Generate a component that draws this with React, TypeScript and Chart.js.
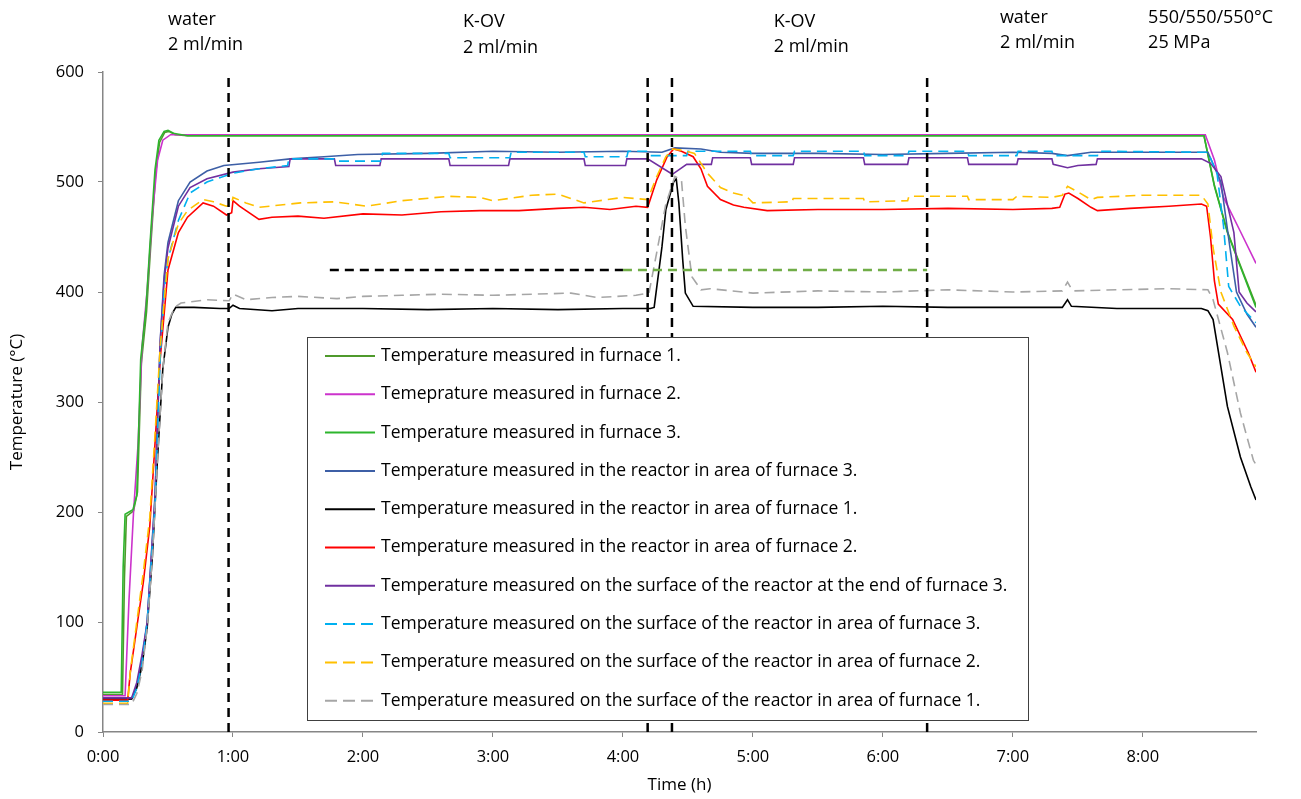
import React, { useEffect, useRef } from "react";
import { Chart, registerables } from "chart.js";

Chart.register(...registerables);

// ---------- data (time in hours, temperature in °C) ----------
const furnace1Time = [0, 0.15, 0.165, 0.18, 0.235, 0.265, 0.295, 0.335, 0.365, 0.405, 0.435, 0.475, 0.505, 0.555, 0.65, 8.47, 8.55, 8.65, 8.75, 8.87];
const furnace1Temp = [34, 34, 140, 196, 201, 218, 335, 382, 438, 508, 536, 545, 546, 543, 542, 542, 497, 455, 424, 388];

const furnace2Time = [0, 0.17, 0.2, 0.235, 0.27, 0.3, 0.34, 0.38, 0.42, 0.46, 0.52, 0.6, 8.48, 8.55, 8.62, 8.75, 8.87];
const furnace2Temp = [33, 33, 120, 200, 262, 350, 402, 470, 520, 538, 543, 543, 543, 520, 486, 455, 426];

const furnace3Time = [0, 0.14, 0.155, 0.17, 0.23, 0.26, 0.29, 0.33, 0.36, 0.4, 0.43, 0.47, 0.5, 0.55, 0.65, 8.47, 8.55, 8.65, 8.75, 8.87];
const furnace3Temp = [36, 36, 150, 198, 202, 215, 339, 384, 441, 511, 538, 546, 547, 544, 542, 542, 496, 454, 423, 386];

const reactorF3Time = [0, 0.22, 0.26, 0.3, 0.34, 0.4, 0.44, 0.47, 0.5, 0.58, 0.67, 0.8, 0.93, 1.2, 1.44, 1.7, 1.96, 2.5, 3.0, 3.5, 4.0, 4.3, 4.4, 4.6, 4.75, 5.0, 5.5, 6.0, 6.5, 7.0, 7.3, 7.42, 7.6, 8.0, 8.5, 8.6, 8.67, 8.72, 8.8, 8.87];
const reactorF3Temp = [30, 30, 42, 65, 100, 215, 355, 415, 445, 483, 500, 510, 515, 518, 521, 523, 525, 526, 528, 527, 528, 527, 531, 530, 527, 526, 526, 525, 526, 527, 526, 524, 527, 527, 527, 500, 440, 400, 380, 368];

const reactorF1Time = [0, 0.22, 0.26, 0.3, 0.34, 0.38, 0.42, 0.46, 0.5, 0.53, 0.56, 0.7, 0.9, 0.97, 1.0, 1.05, 1.3, 1.5, 2.0, 2.5, 3.0, 3.5, 4.0, 4.21, 4.24, 4.3, 4.33, 4.39, 4.41, 4.43, 4.46, 4.48, 4.54, 5.0, 5.5, 6.0, 6.5, 7.0, 7.38, 7.42, 7.45, 7.8, 8.2, 8.45, 8.5, 8.54, 8.6, 8.65, 8.75, 8.83, 8.87];
const reactorF1Temp = [30, 30, 40, 60, 95, 160, 250, 330, 368, 380, 386, 386, 385, 385, 388, 385, 383, 385, 385, 384, 385, 384, 385, 385, 386, 441, 475, 500, 503, 481, 429, 399, 387, 386, 386, 387, 386, 386, 386, 393, 387, 385, 385, 385, 383, 375, 332, 296, 250, 223, 211];

const reactorF2Time = [0, 0.19, 0.21, 0.26, 0.31, 0.36, 0.4, 0.44, 0.5, 0.58, 0.65, 0.77, 0.85, 0.95, 0.99, 1.0, 1.05, 1.2, 1.3, 1.5, 1.7, 2.0, 2.3, 2.6, 2.9, 3.2, 3.5, 3.7, 3.9, 4.1, 4.19, 4.26, 4.34, 4.39, 4.45, 4.54, 4.6, 4.65, 4.75, 4.85, 4.93, 5.11, 5.5, 6.0, 6.5, 7.0, 7.3, 7.36, 7.4, 7.43, 7.5, 7.6, 7.65, 7.9, 8.2, 8.45, 8.49, 8.52, 8.55, 8.58, 8.69, 8.81, 8.87];
const reactorF2Temp = [29, 29, 54, 95, 136, 187, 262, 339, 420, 454, 468, 481, 478, 470, 472, 483, 478, 466, 468, 469, 467, 471, 470, 473, 474, 474, 476, 477, 475, 478, 477, 502, 523, 530, 528, 523, 512, 496, 484, 479, 477, 474, 475, 475, 476, 475, 476, 477, 489, 490, 485, 477, 474, 476, 478, 480, 478, 450, 410, 389, 375, 345, 327];

const surfEndF3Time = [0, 0.22, 0.26, 0.3, 0.34, 0.4, 0.44, 0.47, 0.5, 0.58, 0.67, 0.8, 1.0, 1.2, 1.43, 1.44, 1.78, 1.79, 2.13, 2.14, 2.66, 2.67, 3.12, 3.13, 3.7, 3.71, 4.02, 4.03, 4.19, 4.38, 4.49, 4.68, 4.69, 4.98, 4.99, 5.31, 5.32, 5.85, 5.86, 6.19, 6.2, 6.65, 6.66, 7.03, 7.04, 7.3, 7.31, 7.42, 7.5, 7.64, 7.65, 8.45, 8.52, 8.6, 8.7, 8.74, 8.8, 8.87];
const surfEndF3Temp = [31, 31, 45, 70, 100, 211, 354, 410, 440, 478, 495, 503, 509, 512, 514, 521, 521, 515, 515, 521, 521, 515, 515, 521, 521, 515, 515, 521, 521, 507, 516, 516, 522, 522, 516, 516, 522, 522, 516, 516, 522, 522, 516, 516, 521, 521, 516, 513, 515, 516, 521, 521, 517, 505, 454, 400, 390, 382];

const surfF3Time = [0, 0.22, 0.26, 0.3, 0.34, 0.4, 0.44, 0.47, 0.5, 0.58, 0.67, 0.8, 1.0, 1.2, 1.42, 1.43, 1.78, 1.79, 2.14, 2.15, 2.66, 2.67, 3.13, 3.14, 3.7, 3.71, 4.03, 4.04, 4.19, 4.21, 4.49, 4.5, 4.98, 4.99, 5.31, 5.32, 5.85, 5.86, 6.19, 6.2, 6.65, 6.66, 7.03, 7.04, 7.3, 7.31, 7.65, 7.66, 8.5, 8.57, 8.62, 8.66, 8.75, 8.87];
const surfF3Temp = [28, 28, 40, 62, 100, 205, 340, 400, 430, 465, 490, 500, 508, 512, 515, 521, 521, 519, 519, 526, 526, 522, 522, 527, 527, 523, 523, 528, 528, 524, 524, 528, 528, 524, 524, 528, 528, 524, 524, 528, 528, 524, 524, 528, 528, 524, 524, 528, 527, 508, 460, 405, 387, 372];

const surfF2Time = [0, 0.19, 0.21, 0.31, 0.36, 0.4, 0.44, 0.5, 0.58, 0.65, 0.77, 0.85, 0.95, 0.99, 1.0, 1.1, 1.2, 1.52, 1.78, 2.03, 2.3, 2.66, 2.9, 3.0, 3.3, 3.5, 3.7, 4.0, 4.19, 4.26, 4.33, 4.38, 4.45, 4.55, 4.65, 4.75, 4.85, 4.95, 5.0, 5.3, 5.31, 5.85, 5.86, 6.19, 6.2, 6.65, 6.66, 7.0, 7.03, 7.3, 7.38, 7.42, 7.5, 7.6, 7.65, 8.0, 8.45, 8.5, 8.54, 8.6, 8.7, 8.8, 8.87];
const surfF2Temp = [26, 26, 55, 145, 195, 270, 350, 430, 462, 474, 484, 482, 478, 480, 486, 481, 477, 481, 482, 478, 483, 487, 486, 483, 488, 489, 481, 486, 484, 505, 523, 530, 529, 526, 508, 495, 490, 487, 481, 482, 485, 485, 482, 483, 487, 487, 484, 484, 487, 486, 488, 496, 491, 484, 486, 488, 488, 480, 440, 400, 369, 345, 332];

const surfF1Time = [0, 0.22, 0.26, 0.3, 0.34, 0.38, 0.42, 0.46, 0.5, 0.55, 0.6, 0.8, 0.97, 1.0, 1.1, 1.3, 1.5, 1.8, 2.0, 2.3, 2.6, 3.0, 3.3, 3.6, 3.8, 4.1, 4.2, 4.26, 4.33, 4.4, 4.45, 4.48, 4.53, 4.6, 4.67, 5.0, 5.5, 6.0, 6.5, 7.0, 7.38, 7.42, 7.46, 7.8, 8.2, 8.5, 8.54, 8.65, 8.75, 8.85, 8.87];
const surfF1Temp = [25, 25, 35, 55, 95, 160, 250, 330, 372, 386, 390, 393, 392, 398, 393, 395, 396, 394, 396, 397, 398, 397, 398, 399, 395, 397, 399, 436, 480, 505, 502, 460, 414, 402, 403, 399, 401, 400, 402, 400, 401, 409, 401, 402, 403, 402, 393, 345, 290, 247, 243];

// event markers (hours) and the 420 °C reference line
const eventTimes = [0.966, 4.19, 4.377, 6.34];
const refLevel = 420;
const refBlackSpan = [1.745, 4.0];
const refGreenSpan = [4.0, 6.34];

const hourTicks = [0, 1, 2, 3, 4, 5, 6, 7, 8];

const seriesLabels = [
  "Temperature measured in furnace 1.",
  "Temeprature measured in furnace 2.",
  "Temperature measured in furnace 3.",
  "Temperature measured in the reactor in area of furnace 3.",
  "Temperature measured in the reactor in area of furnace 1.",
  "Temperature measured in the reactor in area of furnace 2.",
  "Temperature measured on the surface of the reactor at the end of furnace 3.",
  "Temperature measured on the surface of the reactor in area of furnace 3.",
  "Temperature measured on the surface of the reactor in area of furnace 2.",
  "Temperature measured on the surface of the reactor in area of furnace 1.",
];
const seriesColors = ["#4f9a2c", "#cc33cc", "#2db52d", "#3d5fa6", "#000000", "#ff0000", "#7030a0", "#00b0f0", "#ffc000", "#a6a6a6"];
const seriesDashed = [false, false, false, false, false, false, false, true, true, true];

const annotations = [
  { t: 0.5, lines: ["water", "2 ml/min"], y: [20, 45] },
  { t: 2.77, lines: ["K-OV", "2 ml/min"], y: [22, 48] },
  { t: 5.16, lines: ["K-OV", "2 ml/min"], y: [22, 47] },
  { t: 6.9, lines: ["water", "2 ml/min"], y: [18, 43] },
  { t: 8.04, lines: ["550/550/550°C", "25 MPa"], y: [18, 43] },
];

const FONT = "'Open Sans', 'DejaVu Sans', sans-serif";

function zip(ts: number[], vs: number[]) {
  return ts.map((t, i) => ({ x: t, y: vs[i] }));
}

export default function App() {
  const ref = useRef<HTMLCanvasElement | null>(null);

  useEffect(() => {
    if (!ref.current) return;
    const times = [furnace1Time, furnace2Time, furnace3Time, reactorF3Time, reactorF1Time, reactorF2Time, surfEndF3Time, surfF3Time, surfF2Time, surfF1Time];
    const temps = [furnace1Temp, furnace2Temp, furnace3Temp, reactorF3Temp, reactorF1Temp, reactorF2Temp, surfEndF3Temp, surfF3Temp, surfF2Temp, surfF1Temp];

    const datasets: any[] = seriesLabels.map((label, i) => ({
      label,
      data: zip(times[i], temps[i]),
      borderColor: seriesColors[i],
      backgroundColor: seriesColors[i],
      borderWidth: 1.6,
      borderDash: seriesDashed[i] ? [10, 6] : [],
      pointRadius: 0,
      tension: 0,
      order: 20 - i,
    }));

    eventTimes.forEach((t) => {
      datasets.push({
        label: "_event",
        data: [{ x: t, y: 0 }, { x: t, y: 600 }],
        borderColor: "#000000",
        borderWidth: 2.5,
        borderDash: [9, 6],
        pointRadius: 0,
        order: 1,
      });
    });
    datasets.push({
      label: "_ref1",
      data: [{ x: refBlackSpan[0], y: refLevel }, { x: refBlackSpan[1], y: refLevel }],
      borderColor: "#000000",
      borderWidth: 2.5,
      borderDash: [9, 6],
      pointRadius: 0,
      order: 1,
    });
    datasets.push({
      label: "_ref2",
      data: [{ x: refGreenSpan[0], y: refLevel }, { x: refGreenSpan[1], y: refLevel }],
      borderColor: "#70ad47",
      borderWidth: 2.5,
      borderDash: [9, 6],
      pointRadius: 0,
      order: 1,
    });

    const legendPlugin = {
      id: "boxLegend",
      afterDatasetsDraw(chart: any) {
        const ctx = chart.ctx;
        const bx = 307, by = 337, bw = 721, bh = 383;
        ctx.save();
        ctx.fillStyle = "#ffffff";
        ctx.fillRect(bx, by, bw, bh);
        ctx.strokeStyle = "#404040";
        ctx.lineWidth = 1;
        ctx.strokeRect(bx + 0.5, by + 0.5, bw, bh);
        ctx.font = `17.5px ${FONT}`;
        ctx.textBaseline = "middle";
        ctx.textAlign = "left";
        for (let i = 0; i < seriesLabels.length; i++) {
          const y = 356 + i * 38.3;
          ctx.beginPath();
          ctx.strokeStyle = seriesColors[i];
          ctx.lineWidth = 2;
          ctx.setLineDash(seriesDashed[i] ? [12, 6] : []);
          ctx.moveTo(325, y);
          ctx.lineTo(375, y);
          ctx.stroke();
          ctx.setLineDash([]);
          ctx.fillStyle = "#000000";
          ctx.fillText(seriesLabels[i], 381, y);
        }
        ctx.restore();
      },
      afterDraw(chart: any) {
        const ctx = chart.ctx;
        const xs = chart.scales.x;
        ctx.save();
        ctx.font = `18px ${FONT}`;
        ctx.fillStyle = "#000000";
        ctx.textBaseline = "middle";
        ctx.textAlign = "left";
        annotations.forEach((a) => {
          const px = xs.getPixelForValue(a.t);
          a.lines.forEach((ln, j) => ctx.fillText(ln, px, a.y[j]));
        });
        ctx.restore();
      },
    };

    const chart = new Chart(ref.current, {
      type: "line",
      data: { datasets },
      options: {
        animation: false,
        responsive: false,
        layout: { padding: { top: 72, right: 45, left: 0, bottom: 0 } },
        plugins: { legend: { display: false }, tooltip: { enabled: false } },
        scales: {
          x: {
            type: "linear",
            min: 0,
            max: 8.87,
            afterFit: (s: any) => { s.height = 67; },
            afterBuildTicks: (s: any) => { s.ticks = hourTicks.map((v) => ({ value: v })); },
            ticks: {
              includeBounds: false,
              padding: 10,
              color: "#000000",
              font: { family: FONT, size: 16.5 },
              callback: (v: any) => `${v}:00`,
              maxRotation: 0,
            },
            grid: { drawOnChartArea: false, drawTicks: true, tickLength: 5, color: "#868686" },
            border: { color: "#868686", width: 1.5 },
            title: { display: true, text: "Time (h)", color: "#000000", font: { family: FONT, size: 17 }, padding: 4 },
          },
          y: {
            min: 0,
            max: 600,
            afterFit: (s: any) => { s.width = 103; },
            ticks: {
              stepSize: 100,
              padding: 14,
              color: "#000000",
              font: { family: FONT, size: 16.5 },
            },
            grid: { drawOnChartArea: false, drawTicks: true, tickLength: 5, color: "#868686" },
            border: { color: "#868686", width: 1.5 },
            title: { display: true, text: "Temperature (°C)", color: "#000000", font: { family: FONT, size: 17 }, padding: 7 },
          },
        },
      },
      plugins: [legendPlugin],
    });
    return () => chart.destroy();
  }, []);

  return (
    <div style={{ position: "absolute", left: 0, top: 0, width: 1301, height: 799, background: "#ffffff" }}>
      <canvas ref={ref} width={1301} height={799} />
    </div>
  );
}
